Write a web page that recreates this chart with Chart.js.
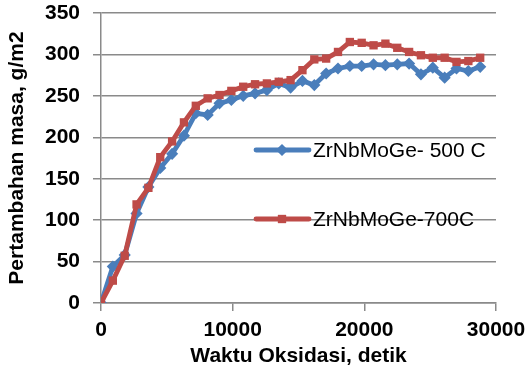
<!DOCTYPE html>
<html><head><meta charset="utf-8">
<script src="https://cdn.jsdelivr.net/npm/chart.js@4.4.1/dist/chart.umd.min.js"></script>
<style>html,body{margin:0;padding:0;background:#fff}#wrap{width:529px;height:371px;position:relative}</style>
</head><body><div id="wrap"><canvas id="c" width="529" height="371"></canvas></div>
<script>
// ---- data ----
const times = [0,900,1800,2700,3600,4500,5400,6300,7200,8100,9000,9900,10800,11700,12600,13500,14400,15300,16200,17100,18000,18900,19800,20700,21600,22500,23400,24300,25200,26100,27000,27900,28800];
const seriesNames = ['ZrNbMoGe- 500 C','ZrNbMoGe-700C'];
const mass500 = [0,44,58,108,140,163,180,202,229,227,241,245,250,253,257,265,260,268,263,277,283,286,286,288,287,288,289,276,284,272,283,280,285];
const mass700 = [0,27,57,119,139,176,195,218,238,247,251,256,261,264,265,267,269,281,294,295,303,315,314,311,313,308,303,299,296,296,291,292,296];
const xTicks = [0,10000,20000,30000];
const yTicks = [0,50,100,150,200,250,300,350];
const xTitle = 'Waktu Oksidasi, detik';
const yTitle = 'Pertambahan masa, g/m2';

// ---- styles ----
const FONT = 'Liberation Sans';
const GRID = '#8a8a8a';
const BLUE = '#4A7EBB';
const RED = '#BE4B48';

const toXY = (ys) => ys.map((v, i) => ({x: times[i], y: v}));

const legendPlugin = {
  id: 'inlineLegend',
  afterDatasetsDraw(chart) {
    const ctx = chart.ctx;
    const rows = [150, 219];
    ctx.save();
    chart.data.datasets.forEach((ds, i) => {
      const y = rows[i];
      ctx.strokeStyle = ds.borderColor;
      ctx.lineWidth = ds.borderWidth;
      ctx.lineCap = 'round';
      ctx.beginPath();
      ctx.moveTo(256, y);
      ctx.lineTo(309, y);
      ctx.stroke();
      ctx.fillStyle = ds.pointBackgroundColor;
      ctx.strokeStyle = ds.pointBorderColor;
      Chart.helpers.drawPoint(ctx, {pointStyle: ds.pointStyle, radius: ds.pointRadius, borderWidth: 1}, 282, y);
      ctx.fillStyle = '#000';
      ctx.font = '21px "' + FONT + '"';
      ctx.textBaseline = 'middle';
      ctx.textAlign = 'left';
      ctx.fillText(ds.label, 313, y + 1);
    });
    ctx.restore();
  }
};

new Chart(document.getElementById('c'), {
  type: 'line',
  data: {
    datasets: [
      {label: seriesNames[0], data: toXY(mass500), borderColor: BLUE, backgroundColor: BLUE,
       pointBackgroundColor: BLUE, pointBorderColor: BLUE, pointStyle: 'rectRot', pointRadius: 2.7,
       borderWidth: 4.8, tension: 0, order: 2},
      {label: seriesNames[1], data: toXY(mass700), borderColor: RED, backgroundColor: RED,
       pointBackgroundColor: RED, pointBorderColor: RED, pointStyle: 'rect', pointRadius: 2.5,
       borderWidth: 4.8, tension: 0, order: 1}
    ]
  },
  options: {
    responsive: false,
    animation: false,
    devicePixelRatio: 1,
    layout: {padding: {top: 13, right: 33, left: 0, bottom: 0}},
    plugins: {legend: {display: false}, tooltip: {enabled: false}},
    scales: {
      x: {
        type: 'linear', min: 0, max: 30000,
        afterBuildTicks: (s) => { s.ticks = xTicks.map(v => ({value: v})); },
        afterFit: (s) => { s.height = 68; s.paddingLeft = 0; s.paddingRight = 0; },
        grid: {drawOnChartArea: false, drawTicks: true, tickLength: 8, color: GRID, lineWidth: 1.5},
        border: {display: true, color: GRID, width: 1.5},
        ticks: {color: '#000', font: {family: FONT, size: 21, weight: 'bold'}, padding: 7, maxRotation: 0,
                callback: (v) => String(v)},
        title: {display: true, text: xTitle, color: '#000', font: {family: FONT, size: 21, weight: 'bold'}, padding: {top: 0, bottom: 2}}
      },
      y: {
        min: 0, max: 350,
        afterBuildTicks: (s) => { s.ticks = yTicks.map(v => ({value: v})); },
        afterFit: (s) => { s.width = 101; s.paddingTop = 0; s.paddingBottom = 0; },
        grid: {drawOnChartArea: true, drawTicks: true, tickLength: 8, color: GRID, lineWidth: 1.5},
        border: {display: true, color: GRID, width: 1.5},
        ticks: {color: '#000', font: {family: FONT, size: 21, weight: 'bold'}, padding: 13,
                callback: (v) => String(v)},
        title: {display: true, text: yTitle, color: '#000', font: {family: FONT, size: 21, weight: 'bold'}, padding: {top: 5, bottom: 0}}
      }
    }
  },
  plugins: [legendPlugin]
});
</script>
</body></html>
